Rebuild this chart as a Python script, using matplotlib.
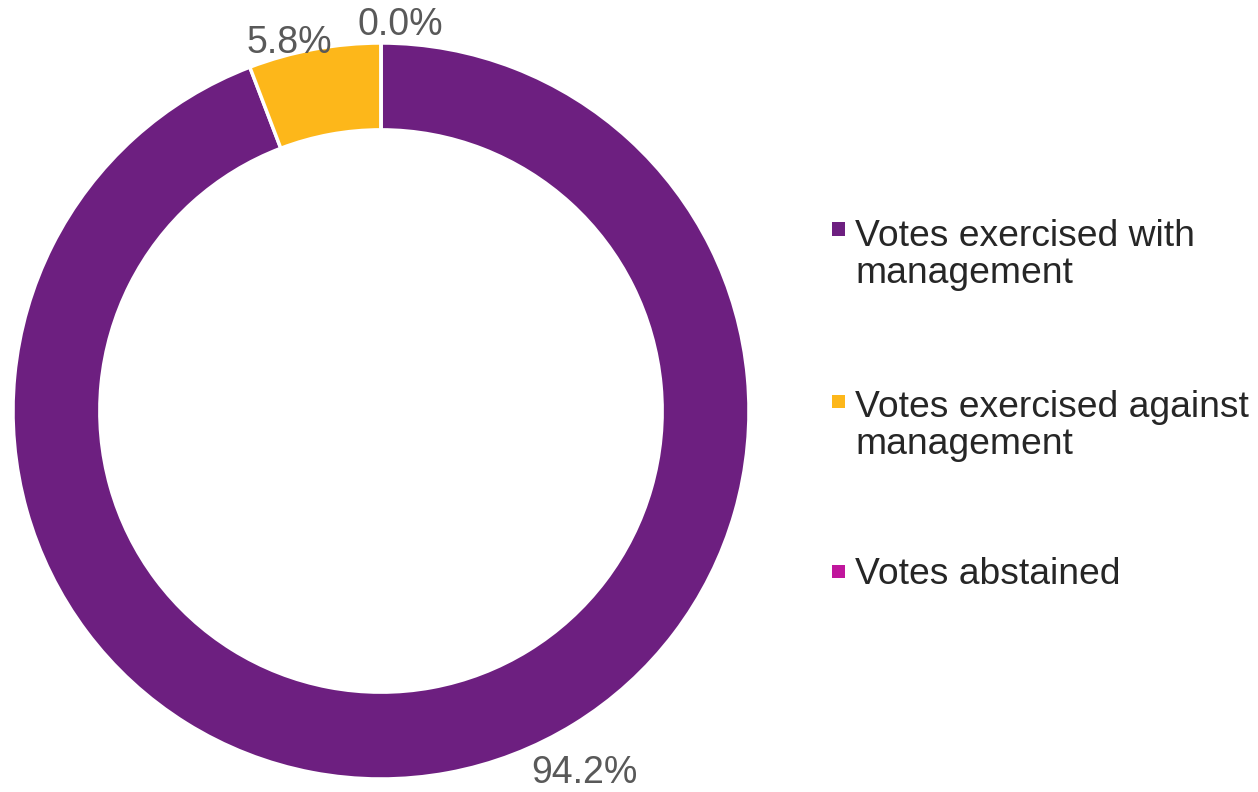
import matplotlib.pyplot as plt
from matplotlib.patches import Rectangle

plt.rcParams['font.family'] = ['Liberation Sans', 'DejaVu Sans']

categories = ['Votes exercised with\nmanagement',
              'Votes exercised against\nmanagement',
              'Votes abstained']
shares = [94.2, 5.8, 0.0]
colors = ['#6d1f80', '#fdb71a', '#c0169c']
value_labels = ['94.2%', '5.8%', '0.0%']

fig = plt.figure(figsize=(12.58, 7.92), dpi=100)
W, H = 1258, 792

# donut: centre (381, 411) px, outer radius 368 px
cx, cy, r = 381, 411, 368
ax = fig.add_axes([(cx - r) / W, (H - cy - r) / H, 2 * r / W, 2 * r / H])
wedges, _ = ax.pie(shares, colors=colors, startangle=90, counterclock=False,
                   wedgeprops=dict(width=0.236, edgecolor='white', linewidth=2.5))
ax.set_xlim(-1, 1)
ax.set_ylim(-1, 1)
ax.set_aspect('equal')
ax.axis('off')

# data labels (baseline placement)
label_pos = [(0.553, -1.010), (-0.249, 0.973), (0.052, 1.022)]
for txt, (x, y) in zip(value_labels, label_pos):
    ax.text(x, y, txt, ha='center', va='baseline', fontsize=27, color='#595959')

# legend drawn by hand so the marker sits on the first line
baselines = [242, 413, 584]
marker_y = [229, 401, 571]
line_step = 41
sq = 13
for name, col, yb, ym in zip(categories, colors, baselines, marker_y):
    fig.add_artist(Rectangle(((838 - sq / 2) / W, (H - ym - sq / 2) / H), sq / W, sq / H,
                             transform=fig.transFigure, facecolor=col, edgecolor='none'))
    # va='baseline' uses the last line, so shift by the extra lines
    last = yb + line_step * name.count('\n')
    fig.text(855 / W, (H - last) / H, name, ha='left', va='baseline', fontsize=26.8,
             color='#262626', linespacing=1.09)

fig.savefig('out.png', dpi=100, facecolor='white')
